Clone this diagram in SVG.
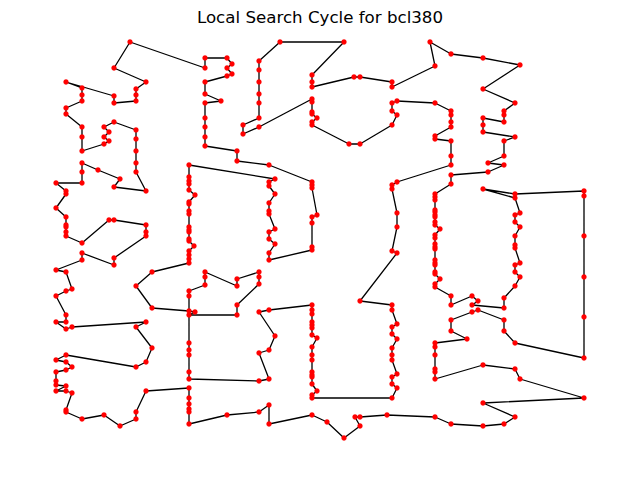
<svg xmlns="http://www.w3.org/2000/svg" width="640" height="480" viewBox="0 0 640 480">
<style>
.t{font-family:"DejaVu Sans","Liberation Sans",sans-serif;font-size:16.67px;fill:#000}
.e{fill:none;stroke:#000;stroke-width:1.3;stroke-linejoin:round}
.n circle{fill:#ff0000;stroke:#ff0000;stroke-width:0.5}
</style>
<rect width="640" height="480" fill="#fff"/>
<text class="t" x="320" y="23" text-anchor="middle">Local Search Cycle for bcl380</text>
<g id="connectors">
<polyline class="e" points="130,42 205,68 205,58 227,58 232,64 227,68 232,74 227,76 205,82 205,94 221,101 205,103 205,118 205,127 205,137 205,146 237,151 237,161 269,165 312,182 312,185 312,188 317,215 312,217 312,223 312,247 312,250 269,260 269,253 275,244 269,239 269,232 275,229 269,214 269,211 269,203 275,194 269,186 269,182 275,179 189,165 189,177 189,181 189,184 189,190 195,195 189,202 189,204 189,211 189,214 189,227 189,230 189,232 189,239 189,241 194,246 189,251 189,255 189,259 189,263 152,272 136,286 152,308 189,311 195,312 189,315 237,315 237,305 259,284 259,277 259,272 237,279 237,286 205,272 205,277 205,285 189,291 189,296 189,343 189,350 189,355 189,372 189,379 259,381 269,379 259,353 269,350 275,336 259,312 269,310 312,305 312,310 312,314 312,322 312,325 312,328 312,335 317,338 312,347 312,355 312,360 312,372 312,375 312,377 312,384 317,391 312,395 312,398 392,398 397,388 392,384 392,377 397,374 392,360 392,355 392,348 397,339 392,334 392,327 397,324 392,310 392,305 360,301 397,253 392,251 397,227 397,213 392,189 392,185 397,182 451,165 451,156 451,141 435,139 435,136 451,127 451,122 451,115 451,111 435,103 397,101 392,103 392,111 397,115 392,125 360,144 349,144 312,125 312,122 317,118 312,114 312,112 312,102 312,99 259,127 243,134 243,125 259,118 259,103 259,94 259,82 259,70 259,61 280,42 344,42 312,75 312,82 312,87 354,77 360,77 392,82 392,87 435,66 430,42 451,54 483,58 520,65 483,89 515,103 504,111 504,115 504,122 483,118 483,125 483,132 515,137 504,141 504,156 488,163 504,165 488,172 451,175 451,184 435,194 435,197 435,200 435,210 435,212 435,215 435,217 435,222 435,225 440,229 435,235 435,238 435,244 435,247 435,249 435,260 435,263 435,265 435,272 435,274 440,279 435,284 435,287 451,296 451,305 472,296 478,301 472,305 504,308 504,298 515,286 520,277 515,272 515,265 520,263 515,248 515,245 515,236 520,227 515,222 515,215 520,213 515,198 483,189 515,194 584,191 584,196 584,236 584,277 584,317 584,358 515,343 504,331 504,320 478,310 472,312 451,320 451,331 467,339 435,343 435,347 435,355 435,369 435,372 435,379 483,365 515,369 520,379 584,398 483,403 515,417 504,424 483,426 451,424 435,417 387,415 360,417 355,417 360,426 344,438 327,422 312,415 269,424 269,405 259,412 227,415 189,424 189,412 189,409 189,404 189,398 189,388 146,391 136,412 136,419 120,426 104,415 82,419 66,412 66,410 72,393 66,391 56,391 66,386 56,385 56,381 56,372 66,370 72,367 66,362 56,360 66,355 136,367 146,362 152,348 136,327 146,322 72,327 66,329 56,322 66,322 66,315 56,296 66,291 72,289 66,272 56,270 82,260 82,253 114,265 114,258 146,236 146,232 146,225 114,220 109,220 82,243 66,236 66,232 66,227 66,225 66,217 56,208 66,194 66,191 56,183 82,183 82,172 82,163 98,170 120,179 114,187 146,191 136,172 136,163 136,151 136,139 136,130 114,122 104,127 109,132 104,137 109,141 104,144 82,151 82,137 82,127 66,114 66,108 82,101 82,95 82,88 66,82 114,96 114,103 136,101 136,95 136,89 146,82 114,68 130,42"/>
</g>
<g id="nodes" class="n">
<circle id="c1" cx="130" cy="42" r="2.4"/><circle id="c2" cx="205" cy="68" r="2.4"/><circle id="c3" cx="205" cy="58" r="2.4"/><circle id="c4" cx="227" cy="58" r="2.4"/><circle id="c5" cx="232" cy="64" r="2.4"/><circle id="c6" cx="227" cy="68" r="2.4"/><circle id="c7" cx="232" cy="74" r="2.4"/><circle id="c8" cx="227" cy="76" r="2.4"/><circle id="c9" cx="205" cy="82" r="2.4"/><circle id="c10" cx="205" cy="94" r="2.4"/>
<circle id="c11" cx="221" cy="101" r="2.4"/><circle id="c12" cx="205" cy="103" r="2.4"/><circle id="c13" cx="205" cy="118" r="2.4"/><circle id="c14" cx="205" cy="127" r="2.4"/><circle id="c15" cx="205" cy="137" r="2.4"/><circle id="c16" cx="205" cy="146" r="2.4"/><circle id="c17" cx="237" cy="151" r="2.4"/><circle id="c18" cx="237" cy="161" r="2.4"/><circle id="c19" cx="269" cy="165" r="2.4"/><circle id="c20" cx="312" cy="182" r="2.4"/>
<circle id="c21" cx="312" cy="185" r="2.4"/><circle id="c22" cx="312" cy="188" r="2.4"/><circle id="c23" cx="317" cy="215" r="2.4"/><circle id="c24" cx="312" cy="217" r="2.4"/><circle id="c25" cx="312" cy="223" r="2.4"/><circle id="c26" cx="312" cy="247" r="2.4"/><circle id="c27" cx="312" cy="250" r="2.4"/><circle id="c28" cx="269" cy="260" r="2.4"/><circle id="c29" cx="269" cy="253" r="2.4"/><circle id="c30" cx="275" cy="244" r="2.4"/>
<circle id="c31" cx="269" cy="239" r="2.4"/><circle id="c32" cx="269" cy="232" r="2.4"/><circle id="c33" cx="275" cy="229" r="2.4"/><circle id="c34" cx="269" cy="214" r="2.4"/><circle id="c35" cx="269" cy="211" r="2.4"/><circle id="c36" cx="269" cy="203" r="2.4"/><circle id="c37" cx="275" cy="194" r="2.4"/><circle id="c38" cx="269" cy="186" r="2.4"/><circle id="c39" cx="269" cy="182" r="2.4"/><circle id="c40" cx="275" cy="179" r="2.4"/>
<circle id="c41" cx="189" cy="165" r="2.4"/><circle id="c42" cx="189" cy="177" r="2.4"/><circle id="c43" cx="189" cy="181" r="2.4"/><circle id="c44" cx="189" cy="184" r="2.4"/><circle id="c45" cx="189" cy="190" r="2.4"/><circle id="c46" cx="195" cy="195" r="2.4"/><circle id="c47" cx="189" cy="202" r="2.4"/><circle id="c48" cx="189" cy="204" r="2.4"/><circle id="c49" cx="189" cy="211" r="2.4"/><circle id="c50" cx="189" cy="214" r="2.4"/>
<circle id="c51" cx="189" cy="227" r="2.4"/><circle id="c52" cx="189" cy="230" r="2.4"/><circle id="c53" cx="189" cy="232" r="2.4"/><circle id="c54" cx="189" cy="239" r="2.4"/><circle id="c55" cx="189" cy="241" r="2.4"/><circle id="c56" cx="194" cy="246" r="2.4"/><circle id="c57" cx="189" cy="251" r="2.4"/><circle id="c58" cx="189" cy="255" r="2.4"/><circle id="c59" cx="189" cy="259" r="2.4"/><circle id="c60" cx="189" cy="263" r="2.4"/>
<circle id="c61" cx="152" cy="272" r="2.4"/><circle id="c62" cx="136" cy="286" r="2.4"/><circle id="c63" cx="152" cy="308" r="2.4"/><circle id="c64" cx="189" cy="311" r="2.4"/><circle id="c65" cx="195" cy="312" r="2.4"/><circle id="c66" cx="189" cy="315" r="2.4"/><circle id="c67" cx="237" cy="315" r="2.4"/><circle id="c68" cx="237" cy="305" r="2.4"/><circle id="c69" cx="259" cy="284" r="2.4"/><circle id="c70" cx="259" cy="277" r="2.4"/>
<circle id="c71" cx="259" cy="272" r="2.4"/><circle id="c72" cx="237" cy="279" r="2.4"/><circle id="c73" cx="237" cy="286" r="2.4"/><circle id="c74" cx="205" cy="272" r="2.4"/><circle id="c75" cx="205" cy="277" r="2.4"/><circle id="c76" cx="205" cy="285" r="2.4"/><circle id="c77" cx="189" cy="291" r="2.4"/><circle id="c78" cx="189" cy="296" r="2.4"/><circle id="c79" cx="189" cy="343" r="2.4"/><circle id="c80" cx="189" cy="350" r="2.4"/>
<circle id="c81" cx="189" cy="355" r="2.4"/><circle id="c82" cx="189" cy="372" r="2.4"/><circle id="c83" cx="189" cy="379" r="2.4"/><circle id="c84" cx="259" cy="381" r="2.4"/><circle id="c85" cx="269" cy="379" r="2.4"/><circle id="c86" cx="259" cy="353" r="2.4"/><circle id="c87" cx="269" cy="350" r="2.4"/><circle id="c88" cx="275" cy="336" r="2.4"/><circle id="c89" cx="259" cy="312" r="2.4"/><circle id="c90" cx="269" cy="310" r="2.4"/>
<circle id="c91" cx="312" cy="305" r="2.4"/><circle id="c92" cx="312" cy="310" r="2.4"/><circle id="c93" cx="312" cy="314" r="2.4"/><circle id="c94" cx="312" cy="322" r="2.4"/><circle id="c95" cx="312" cy="325" r="2.4"/><circle id="c96" cx="312" cy="328" r="2.4"/><circle id="c97" cx="312" cy="335" r="2.4"/><circle id="c98" cx="317" cy="338" r="2.4"/><circle id="c99" cx="312" cy="347" r="2.4"/><circle id="c100" cx="312" cy="355" r="2.4"/>
<circle id="c101" cx="312" cy="360" r="2.4"/><circle id="c102" cx="312" cy="372" r="2.4"/><circle id="c103" cx="312" cy="375" r="2.4"/><circle id="c104" cx="312" cy="377" r="2.4"/><circle id="c105" cx="312" cy="384" r="2.4"/><circle id="c106" cx="317" cy="391" r="2.4"/><circle id="c107" cx="312" cy="395" r="2.4"/><circle id="c108" cx="312" cy="398" r="2.4"/><circle id="c109" cx="392" cy="398" r="2.4"/><circle id="c110" cx="397" cy="388" r="2.4"/>
<circle id="c111" cx="392" cy="384" r="2.4"/><circle id="c112" cx="392" cy="377" r="2.4"/><circle id="c113" cx="397" cy="374" r="2.4"/><circle id="c114" cx="392" cy="360" r="2.4"/><circle id="c115" cx="392" cy="355" r="2.4"/><circle id="c116" cx="392" cy="348" r="2.4"/><circle id="c117" cx="397" cy="339" r="2.4"/><circle id="c118" cx="392" cy="334" r="2.4"/><circle id="c119" cx="392" cy="327" r="2.4"/><circle id="c120" cx="397" cy="324" r="2.4"/>
<circle id="c121" cx="392" cy="310" r="2.4"/><circle id="c122" cx="392" cy="305" r="2.4"/><circle id="c123" cx="360" cy="301" r="2.4"/><circle id="c124" cx="397" cy="253" r="2.4"/><circle id="c125" cx="392" cy="251" r="2.4"/><circle id="c126" cx="397" cy="227" r="2.4"/><circle id="c127" cx="397" cy="213" r="2.4"/><circle id="c128" cx="392" cy="189" r="2.4"/><circle id="c129" cx="392" cy="185" r="2.4"/><circle id="c130" cx="397" cy="182" r="2.4"/>
<circle id="c131" cx="451" cy="165" r="2.4"/><circle id="c132" cx="451" cy="156" r="2.4"/><circle id="c133" cx="451" cy="141" r="2.4"/><circle id="c134" cx="435" cy="139" r="2.4"/><circle id="c135" cx="435" cy="136" r="2.4"/><circle id="c136" cx="451" cy="127" r="2.4"/><circle id="c137" cx="451" cy="122" r="2.4"/><circle id="c138" cx="451" cy="115" r="2.4"/><circle id="c139" cx="451" cy="111" r="2.4"/><circle id="c140" cx="435" cy="103" r="2.4"/>
<circle id="c141" cx="397" cy="101" r="2.4"/><circle id="c142" cx="392" cy="103" r="2.4"/><circle id="c143" cx="392" cy="111" r="2.4"/><circle id="c144" cx="397" cy="115" r="2.4"/><circle id="c145" cx="392" cy="125" r="2.4"/><circle id="c146" cx="360" cy="144" r="2.4"/><circle id="c147" cx="349" cy="144" r="2.4"/><circle id="c148" cx="312" cy="125" r="2.4"/><circle id="c149" cx="312" cy="122" r="2.4"/><circle id="c150" cx="317" cy="118" r="2.4"/>
<circle id="c151" cx="312" cy="114" r="2.4"/><circle id="c152" cx="312" cy="112" r="2.4"/><circle id="c153" cx="312" cy="102" r="2.4"/><circle id="c154" cx="312" cy="99" r="2.4"/><circle id="c155" cx="259" cy="127" r="2.4"/><circle id="c156" cx="243" cy="134" r="2.4"/><circle id="c157" cx="243" cy="125" r="2.4"/><circle id="c158" cx="259" cy="118" r="2.4"/><circle id="c159" cx="259" cy="103" r="2.4"/><circle id="c160" cx="259" cy="94" r="2.4"/>
<circle id="c161" cx="259" cy="82" r="2.4"/><circle id="c162" cx="259" cy="70" r="2.4"/><circle id="c163" cx="259" cy="61" r="2.4"/><circle id="c164" cx="280" cy="42" r="2.4"/><circle id="c165" cx="344" cy="42" r="2.4"/><circle id="c166" cx="312" cy="75" r="2.4"/><circle id="c167" cx="312" cy="82" r="2.4"/><circle id="c168" cx="312" cy="87" r="2.4"/><circle id="c169" cx="354" cy="77" r="2.4"/><circle id="c170" cx="360" cy="77" r="2.4"/>
<circle id="c171" cx="392" cy="82" r="2.4"/><circle id="c172" cx="392" cy="87" r="2.4"/><circle id="c173" cx="435" cy="66" r="2.4"/><circle id="c174" cx="430" cy="42" r="2.4"/><circle id="c175" cx="451" cy="54" r="2.4"/><circle id="c176" cx="483" cy="58" r="2.4"/><circle id="c177" cx="520" cy="65" r="2.4"/><circle id="c178" cx="483" cy="89" r="2.4"/><circle id="c179" cx="515" cy="103" r="2.4"/><circle id="c180" cx="504" cy="111" r="2.4"/>
<circle id="c181" cx="504" cy="115" r="2.4"/><circle id="c182" cx="504" cy="122" r="2.4"/><circle id="c183" cx="483" cy="118" r="2.4"/><circle id="c184" cx="483" cy="125" r="2.4"/><circle id="c185" cx="483" cy="132" r="2.4"/><circle id="c186" cx="515" cy="137" r="2.4"/><circle id="c187" cx="504" cy="141" r="2.4"/><circle id="c188" cx="504" cy="156" r="2.4"/><circle id="c189" cx="488" cy="163" r="2.4"/><circle id="c190" cx="504" cy="165" r="2.4"/>
<circle id="c191" cx="488" cy="172" r="2.4"/><circle id="c192" cx="451" cy="175" r="2.4"/><circle id="c193" cx="451" cy="184" r="2.4"/><circle id="c194" cx="435" cy="194" r="2.4"/><circle id="c195" cx="435" cy="197" r="2.4"/><circle id="c196" cx="435" cy="200" r="2.4"/><circle id="c197" cx="435" cy="210" r="2.4"/><circle id="c198" cx="435" cy="212" r="2.4"/><circle id="c199" cx="435" cy="215" r="2.4"/><circle id="c200" cx="435" cy="217" r="2.4"/>
<circle id="c201" cx="435" cy="222" r="2.4"/><circle id="c202" cx="435" cy="225" r="2.4"/><circle id="c203" cx="440" cy="229" r="2.4"/><circle id="c204" cx="435" cy="235" r="2.4"/><circle id="c205" cx="435" cy="238" r="2.4"/><circle id="c206" cx="435" cy="244" r="2.4"/><circle id="c207" cx="435" cy="247" r="2.4"/><circle id="c208" cx="435" cy="249" r="2.4"/><circle id="c209" cx="435" cy="260" r="2.4"/><circle id="c210" cx="435" cy="263" r="2.4"/>
<circle id="c211" cx="435" cy="265" r="2.4"/><circle id="c212" cx="435" cy="272" r="2.4"/><circle id="c213" cx="435" cy="274" r="2.4"/><circle id="c214" cx="440" cy="279" r="2.4"/><circle id="c215" cx="435" cy="284" r="2.4"/><circle id="c216" cx="435" cy="287" r="2.4"/><circle id="c217" cx="451" cy="296" r="2.4"/><circle id="c218" cx="451" cy="305" r="2.4"/><circle id="c219" cx="472" cy="296" r="2.4"/><circle id="c220" cx="478" cy="301" r="2.4"/>
<circle id="c221" cx="472" cy="305" r="2.4"/><circle id="c222" cx="504" cy="308" r="2.4"/><circle id="c223" cx="504" cy="298" r="2.4"/><circle id="c224" cx="515" cy="286" r="2.4"/><circle id="c225" cx="520" cy="277" r="2.4"/><circle id="c226" cx="515" cy="272" r="2.4"/><circle id="c227" cx="515" cy="265" r="2.4"/><circle id="c228" cx="520" cy="263" r="2.4"/><circle id="c229" cx="515" cy="248" r="2.4"/><circle id="c230" cx="515" cy="245" r="2.4"/>
<circle id="c231" cx="515" cy="236" r="2.4"/><circle id="c232" cx="520" cy="227" r="2.4"/><circle id="c233" cx="515" cy="222" r="2.4"/><circle id="c234" cx="515" cy="215" r="2.4"/><circle id="c235" cx="520" cy="213" r="2.4"/><circle id="c236" cx="515" cy="198" r="2.4"/><circle id="c237" cx="483" cy="189" r="2.4"/><circle id="c238" cx="515" cy="194" r="2.4"/><circle id="c239" cx="584" cy="191" r="2.4"/><circle id="c240" cx="584" cy="196" r="2.4"/>
<circle id="c241" cx="584" cy="236" r="2.4"/><circle id="c242" cx="584" cy="277" r="2.4"/><circle id="c243" cx="584" cy="317" r="2.4"/><circle id="c244" cx="584" cy="358" r="2.4"/><circle id="c245" cx="515" cy="343" r="2.4"/><circle id="c246" cx="504" cy="331" r="2.4"/><circle id="c247" cx="504" cy="320" r="2.4"/><circle id="c248" cx="478" cy="310" r="2.4"/><circle id="c249" cx="472" cy="312" r="2.4"/><circle id="c250" cx="451" cy="320" r="2.4"/>
<circle id="c251" cx="451" cy="331" r="2.4"/><circle id="c252" cx="467" cy="339" r="2.4"/><circle id="c253" cx="435" cy="343" r="2.4"/><circle id="c254" cx="435" cy="347" r="2.4"/><circle id="c255" cx="435" cy="355" r="2.4"/><circle id="c256" cx="435" cy="369" r="2.4"/><circle id="c257" cx="435" cy="372" r="2.4"/><circle id="c258" cx="435" cy="379" r="2.4"/><circle id="c259" cx="483" cy="365" r="2.4"/><circle id="c260" cx="515" cy="369" r="2.4"/>
<circle id="c261" cx="520" cy="379" r="2.4"/><circle id="c262" cx="584" cy="398" r="2.4"/><circle id="c263" cx="483" cy="403" r="2.4"/><circle id="c264" cx="515" cy="417" r="2.4"/><circle id="c265" cx="504" cy="424" r="2.4"/><circle id="c266" cx="483" cy="426" r="2.4"/><circle id="c267" cx="451" cy="424" r="2.4"/><circle id="c268" cx="435" cy="417" r="2.4"/><circle id="c269" cx="387" cy="415" r="2.4"/><circle id="c270" cx="360" cy="417" r="2.4"/>
<circle id="c271" cx="355" cy="417" r="2.4"/><circle id="c272" cx="360" cy="426" r="2.4"/><circle id="c273" cx="344" cy="438" r="2.4"/><circle id="c274" cx="327" cy="422" r="2.4"/><circle id="c275" cx="312" cy="415" r="2.4"/><circle id="c276" cx="269" cy="424" r="2.4"/><circle id="c277" cx="269" cy="405" r="2.4"/><circle id="c278" cx="259" cy="412" r="2.4"/><circle id="c279" cx="227" cy="415" r="2.4"/><circle id="c280" cx="189" cy="424" r="2.4"/>
<circle id="c281" cx="189" cy="412" r="2.4"/><circle id="c282" cx="189" cy="409" r="2.4"/><circle id="c283" cx="189" cy="404" r="2.4"/><circle id="c284" cx="189" cy="398" r="2.4"/><circle id="c285" cx="189" cy="388" r="2.4"/><circle id="c286" cx="146" cy="391" r="2.4"/><circle id="c287" cx="136" cy="412" r="2.4"/><circle id="c288" cx="136" cy="419" r="2.4"/><circle id="c289" cx="120" cy="426" r="2.4"/><circle id="c290" cx="104" cy="415" r="2.4"/>
<circle id="c291" cx="82" cy="419" r="2.4"/><circle id="c292" cx="66" cy="412" r="2.4"/><circle id="c293" cx="66" cy="410" r="2.4"/><circle id="c294" cx="72" cy="393" r="2.4"/><circle id="c295" cx="66" cy="391" r="2.4"/><circle id="c296" cx="56" cy="391" r="2.4"/><circle id="c297" cx="66" cy="386" r="2.4"/><circle id="c298" cx="56" cy="385" r="2.4"/><circle id="c299" cx="56" cy="381" r="2.4"/><circle id="c300" cx="56" cy="372" r="2.4"/>
<circle id="c301" cx="66" cy="370" r="2.4"/><circle id="c302" cx="72" cy="367" r="2.4"/><circle id="c303" cx="66" cy="362" r="2.4"/><circle id="c304" cx="56" cy="360" r="2.4"/><circle id="c305" cx="66" cy="355" r="2.4"/><circle id="c306" cx="136" cy="367" r="2.4"/><circle id="c307" cx="146" cy="362" r="2.4"/><circle id="c308" cx="152" cy="348" r="2.4"/><circle id="c309" cx="136" cy="327" r="2.4"/><circle id="c310" cx="146" cy="322" r="2.4"/>
<circle id="c311" cx="72" cy="327" r="2.4"/><circle id="c312" cx="66" cy="329" r="2.4"/><circle id="c313" cx="56" cy="322" r="2.4"/><circle id="c314" cx="66" cy="322" r="2.4"/><circle id="c315" cx="66" cy="315" r="2.4"/><circle id="c316" cx="56" cy="296" r="2.4"/><circle id="c317" cx="66" cy="291" r="2.4"/><circle id="c318" cx="72" cy="289" r="2.4"/><circle id="c319" cx="66" cy="272" r="2.4"/><circle id="c320" cx="56" cy="270" r="2.4"/>
<circle id="c321" cx="82" cy="260" r="2.4"/><circle id="c322" cx="82" cy="253" r="2.4"/><circle id="c323" cx="114" cy="265" r="2.4"/><circle id="c324" cx="114" cy="258" r="2.4"/><circle id="c325" cx="146" cy="236" r="2.4"/><circle id="c326" cx="146" cy="232" r="2.4"/><circle id="c327" cx="146" cy="225" r="2.4"/><circle id="c328" cx="114" cy="220" r="2.4"/><circle id="c329" cx="109" cy="220" r="2.4"/><circle id="c330" cx="82" cy="243" r="2.4"/>
<circle id="c331" cx="66" cy="236" r="2.4"/><circle id="c332" cx="66" cy="232" r="2.4"/><circle id="c333" cx="66" cy="227" r="2.4"/><circle id="c334" cx="66" cy="225" r="2.4"/><circle id="c335" cx="66" cy="217" r="2.4"/><circle id="c336" cx="56" cy="208" r="2.4"/><circle id="c337" cx="66" cy="194" r="2.4"/><circle id="c338" cx="66" cy="191" r="2.4"/><circle id="c339" cx="56" cy="183" r="2.4"/><circle id="c340" cx="82" cy="183" r="2.4"/>
<circle id="c341" cx="82" cy="172" r="2.4"/><circle id="c342" cx="82" cy="163" r="2.4"/><circle id="c343" cx="98" cy="170" r="2.4"/><circle id="c344" cx="120" cy="179" r="2.4"/><circle id="c345" cx="114" cy="187" r="2.4"/><circle id="c346" cx="146" cy="191" r="2.4"/><circle id="c347" cx="136" cy="172" r="2.4"/><circle id="c348" cx="136" cy="163" r="2.4"/><circle id="c349" cx="136" cy="151" r="2.4"/><circle id="c350" cx="136" cy="139" r="2.4"/>
<circle id="c351" cx="136" cy="130" r="2.4"/><circle id="c352" cx="114" cy="122" r="2.4"/><circle id="c353" cx="104" cy="127" r="2.4"/><circle id="c354" cx="109" cy="132" r="2.4"/><circle id="c355" cx="104" cy="137" r="2.4"/><circle id="c356" cx="109" cy="141" r="2.4"/><circle id="c357" cx="104" cy="144" r="2.4"/><circle id="c358" cx="82" cy="151" r="2.4"/><circle id="c359" cx="82" cy="137" r="2.4"/><circle id="c360" cx="82" cy="127" r="2.4"/>
<circle id="c361" cx="66" cy="114" r="2.4"/><circle id="c362" cx="66" cy="108" r="2.4"/><circle id="c363" cx="82" cy="101" r="2.4"/><circle id="c364" cx="82" cy="95" r="2.4"/><circle id="c365" cx="82" cy="88" r="2.4"/><circle id="c366" cx="66" cy="82" r="2.4"/><circle id="c367" cx="114" cy="96" r="2.4"/><circle id="c368" cx="114" cy="103" r="2.4"/><circle id="c369" cx="136" cy="101" r="2.4"/><circle id="c370" cx="136" cy="95" r="2.4"/>
<circle id="c371" cx="136" cy="89" r="2.4"/><circle id="c372" cx="146" cy="82" r="2.4"/><circle id="c373" cx="114" cy="68" r="2.4"/>
</g>
</svg>
